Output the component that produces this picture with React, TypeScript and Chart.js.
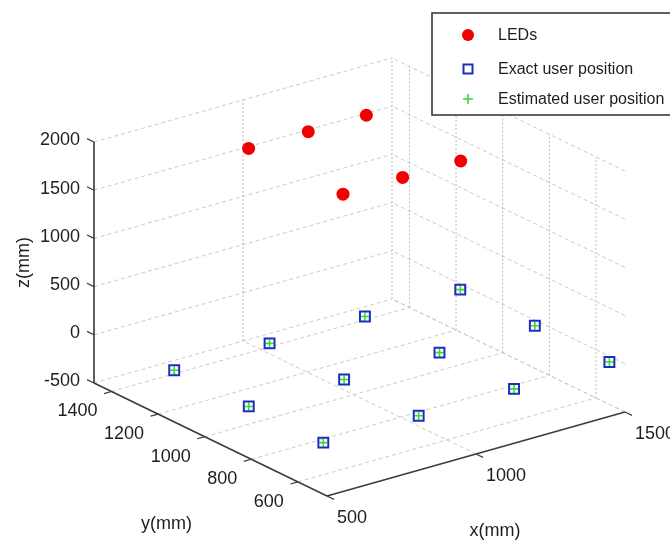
import React, { useEffect, useRef } from 'react';
import { Chart, registerables } from 'chart.js';

Chart.register(...registerables);

// ---- data (mm) ----
const xTicks = [500, 1000, 1500];
const yTicks = [600, 800, 1000, 1200, 1400];
const zTicks = [-500, 0, 500, 1000, 1500, 2000];
const xLimits = [500, 1500];
const yLimits = [475, 1475];
const zLimits = [-500, 2000];

const ledX = [800, 1000, 1195, 800, 1000, 1195];
const ledY = [790, 790, 790, 1195, 1195, 1195];
const ledZ = [2000, 2000, 2000, 2000, 2000, 2000];

const exactX = [515, 835, 1155, 1475, 515, 835, 1155, 1475, 515, 835, 1155, 1475];
const exactY = [510, 510, 510, 510, 830, 830, 830, 830, 1150, 1150, 1150, 1150];
const exactZ = [0, 0, 0, 0, 0, 0, 0, 0, 0, 0, 0, 0];

const estX = [515, 835, 1155, 1475, 515, 835, 1155, 1475, 515, 835, 1155, 1475];
const estY = [510, 510, 510, 510, 830, 830, 830, 830, 1150, 1150, 1150, 1150];
const estZ = [0, 0, 0, 0, 0, 0, 0, 0, 0, 0, 0, 0];

const seriesNames = ['LEDs', 'Exact user position', 'Estimated user position'];
const xTitle = 'x(mm)';
const yTitle = 'y(mm)';
const zTitle = 'z(mm)';

// ---- layout: oblique view projection (screen units per mm) ----
const ORIGIN = { x: 327, y: 496 };
const UX = { x: 0.298, y: -0.084 };
const UY = { x: -0.233, y: -0.113 };
const UZ = { x: 0, y: -0.0964 };

function project(x: number, y: number, z: number) {
  const dx = x - xLimits[0];
  const dy = y - yLimits[0];
  const dz = z - zLimits[0];
  return {
    x: ORIGIN.x + dx * UX.x + dy * UY.x + dz * UZ.x,
    y: ORIGIN.y + dx * UX.y + dy * UY.y + dz * UZ.y,
  };
}

function toPoints(xs: number[], ys: number[], zs: number[]) {
  return xs.map((x, i) => project(x, ys[i], zs[i]));
}

const FONT = "'Liberation Sans', Arial, Helvetica, sans-serif";
const RED = '#f00000';
const BLUE = '#1e2cc0';
const GREEN = '#33dd33';

const box3dPlugin = {
  id: 'box3d',
  beforeDatasetsDraw(chart: any) {
    const ctx = chart.ctx as CanvasRenderingContext2D;
    const sx = chart.scales.x;
    const sy = chart.scales.y;
    const P = (x: number, y: number, z: number) => {
      const p = project(x, y, z);
      return { x: sx.getPixelForValue(p.x), y: sy.getPixelForValue(p.y) };
    };
    const line = (a: any, b: any) => {
      ctx.beginPath();
      ctx.moveTo(a.x, a.y);
      ctx.lineTo(b.x, b.y);
      ctx.stroke();
    };
    const [x0, x1] = xLimits;
    const [y0, y1] = yLimits;
    const [z0, z1] = zLimits;

    ctx.save();
    // grid lines
    ctx.lineWidth = 1;
    ctx.strokeStyle = '#cacaca';
    ctx.setLineDash([4, 3]);
    zTicks.forEach((z) => line(P(x0, y1, z), P(x1, y1, z)));
    zTicks.forEach((z) => line(P(x1, y0, z), P(x1, y1, z)));
    xTicks.forEach((x) => line(P(x, y0, z0), P(x, y1, z0)));
    yTicks.forEach((y) => line(P(x0, y, z0), P(x1, y, z0)));
    ctx.strokeStyle = '#b8b8b8';
    ctx.setLineDash([2, 2]);
    xTicks.forEach((x) => line(P(x, y1, z0), P(x, y1, z1)));
    yTicks.forEach((y) => line(P(x1, y, z0), P(x1, y, z1)));

    // axis lines
    ctx.setLineDash([]);
    ctx.strokeStyle = '#3c3c3c';
    ctx.lineWidth = 1.6;
    line(P(x0, y1, z0), P(x0, y1, z1));
    line(P(x0, y0, z0), P(x0, y1, z0));
    line(P(x0, y0, z0), P(x1, y0, z0));

    // ticks
    ctx.lineWidth = 1.2;
    zTicks.forEach((z) => line(P(x0, y1, z), P(x0, y1 + 30, z)));
    yTicks.forEach((y) => line(P(x0, y, z0), P(x0 - 25, y, z0)));
    xTicks.forEach((x) => line(P(x, y0, z0), P(x, y0 - 30, z0)));

    // tick labels
    ctx.fillStyle = '#1e1e1e';
    ctx.font = `18px ${FONT}`;
    ctx.textBaseline = 'middle';
    ctx.textAlign = 'right';
    zTicks.forEach((z) => {
      const p = P(x0, y1, z);
      ctx.fillText(String(z), p.x - 14, p.y - 1.5);
    });
    yTicks.forEach((y) => {
      const p = P(x0, y, z0);
      ctx.fillText(String(y), p.x - 14, p.y + 20);
    });
    ctx.textAlign = 'left';
    xTicks.forEach((x) => {
      const p = P(x, y0, z0);
      ctx.fillText(String(x), p.x + 10, p.y + 22);
    });

    // axis titles
    ctx.textAlign = 'center';
    const xm = P((x0 + x1) / 2, y0, z0);
    ctx.fillText(xTitle, xm.x + 19, xm.y + 77);
    const ym = P(x0, (y0 + y1) / 2, z0);
    ctx.fillText(yTitle, ym.x - 44, ym.y + 85);
    const zm = P(x0, y1, (z0 + z1) / 2);
    ctx.save();
    ctx.translate(zm.x - 70, zm.y);
    ctx.rotate(-Math.PI / 2);
    ctx.fillText(zTitle, 0, 0);
    ctx.restore();
    ctx.restore();
  },
  afterDatasetsDraw(chart: any) {
    const ctx = chart.ctx as CanvasRenderingContext2D;
    const left = 432;
    const top = 13;
    const w = 245;
    const h = 102;
    ctx.save();
    ctx.fillStyle = '#ffffff';
    ctx.fillRect(left, top, w, h);
    ctx.strokeStyle = '#3a3a3a';
    ctx.lineWidth = 1.6;
    ctx.strokeRect(left, top, w, h);
    const mx = 468;
    const rows = [35, 69, 99];
    ctx.fillStyle = RED;
    ctx.beginPath();
    ctx.arc(mx, rows[0], 6, 0, Math.PI * 2);
    ctx.fill();
    ctx.strokeStyle = BLUE;
    ctx.lineWidth = 2;
    ctx.strokeRect(mx - 4.5, rows[1] - 4.5, 9, 9);
    ctx.strokeStyle = GREEN;
    ctx.lineWidth = 1.6;
    ctx.beginPath();
    ctx.moveTo(mx - 5, rows[2]);
    ctx.lineTo(mx + 5, rows[2]);
    ctx.moveTo(mx, rows[2] - 5);
    ctx.lineTo(mx, rows[2] + 5);
    ctx.stroke();
    ctx.fillStyle = '#1e1e1e';
    ctx.font = `16px ${FONT}`;
    ctx.textAlign = 'left';
    ctx.textBaseline = 'middle';
    seriesNames.forEach((name, i) => ctx.fillText(name, 498, rows[i] + 1));
    ctx.restore();
  },
};

export default function App() {
  const canvasRef = useRef<HTMLCanvasElement | null>(null);

  useEffect(() => {
    if (!canvasRef.current) return;
    const chart = new Chart(canvasRef.current, {
      type: 'scatter',
      data: {
        datasets: [
          {
            label: seriesNames[0],
            data: toPoints(ledX, ledY, ledZ),
            pointStyle: 'circle',
            pointRadius: 6.5,
            backgroundColor: RED,
            borderColor: RED,
            borderWidth: 0,
          },
          {
            label: seriesNames[1],
            data: toPoints(exactX, exactY, exactZ),
            pointStyle: 'rect',
            pointRadius: 7,
            backgroundColor: 'rgba(0,0,0,0)',
            borderColor: BLUE,
            borderWidth: 2,
          },
          {
            label: seriesNames[2],
            data: toPoints(estX, estY, estZ),
            pointStyle: 'cross',
            pointRadius: 4,
            backgroundColor: GREEN,
            borderColor: GREEN,
            borderWidth: 1.6,
          },
        ],
      },
      options: {
        animation: false,
        responsive: false,
        events: [],
        layout: { padding: 0, autoPadding: false },
        scales: {
          x: { type: 'linear', min: 0, max: 670, display: false },
          y: { type: 'linear', min: 0, max: 543, reverse: true, display: false },
        },
        plugins: {
          legend: { display: false },
          tooltip: { enabled: false },
        },
      },
      plugins: [box3dPlugin],
    });
    return () => chart.destroy();
  }, []);

  return (
    <div style={{ position: 'absolute', left: 0, top: 0, width: 670, height: 543, background: '#fff' }}>
      <canvas ref={canvasRef} width={670} height={543} style={{ display: 'block' }} />
    </div>
  );
}
